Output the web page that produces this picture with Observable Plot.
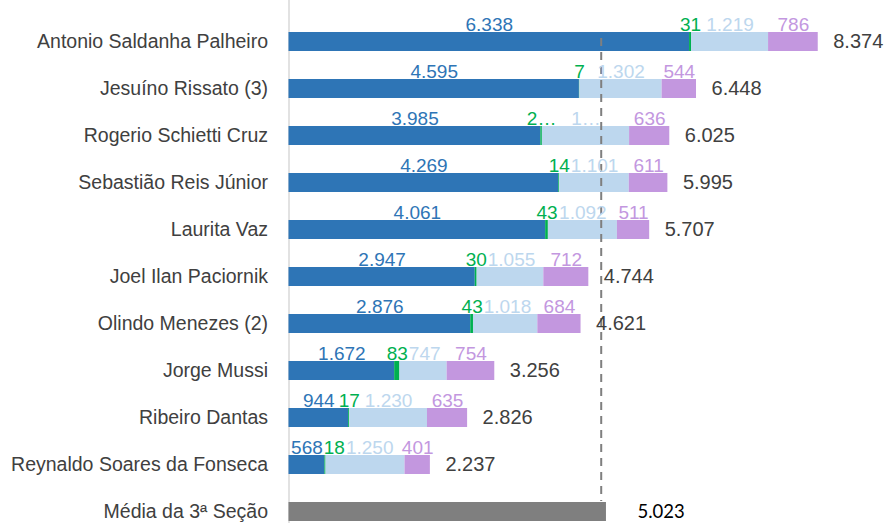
<!DOCTYPE html>
<html>
<head>
<meta charset="utf-8">
<script src="https://cdn.jsdelivr.net/npm/d3@7"></script>
<script src="https://cdn.jsdelivr.net/npm/@observablehq/plot@0.6"></script>
<style>
  html, body { margin: 0; padding: 0; background: #fff; overflow: hidden; }
  #chart svg { display: block; }
</style>
</head>
<body>
<div id="chart"></div>
<script>
// ---- data ----
const nomes = [
  "Antonio Saldanha Palheiro",
  "Jesuíno Rissato (3)",
  "Rogerio Schietti Cruz",
  "Sebastião Reis Júnior",
  "Laurita Vaz",
  "Joel Ilan Paciornik",
  "Olindo Menezes (2)",
  "Jorge Mussi",
  "Ribeiro Dantas",
  "Reynaldo Soares da Fonseca"
];
const azulEscuro = [6338, 4595, 3985, 4269, 4061, 2947, 2876, 1672, 944, 568];
const verde      = [31, 7, 24, 14, 43, 30, 43, 83, 17, 18];
const azulClaro  = [1219, 1302, 1380, 1101, 1092, 1055, 1018, 747, 1230, 1250];
const roxo       = [786, 544, 636, 611, 511, 712, 684, 754, 635, 401];

const mediaNome = "Média da 3ª Seção";
const mediaValor = 5023;
const linhaTracejada = 4940;

const series = ["Azul escuro", "Verde", "Azul claro", "Roxo"];
const cores = ["#2e75b6", "#00b050", "#bdd7ee", "#c397df"];
const rotulosTruncados = [
  ["Rogerio Schietti Cruz", "Verde"],
  ["Rogerio Schietti Cruz", "Azul claro"]
];

// ---- derived tables ----
const valoresPorSerie = [azulEscuro, verde, azulClaro, roxo];
const dados = [];
nomes.forEach((nome, i) => {
  let acumulado = 0;
  series.forEach((s, j) => {
    const valor = valoresPorSerie[j][i];
    dados.push({nome, serie: s, valor, meio: acumulado + valor / 2});
    acumulado += valor;
  });
});
const totais = nomes.map((nome, i) => ({
  nome, total: azulEscuro[i] + verde[i] + azulClaro[i] + roxo[i]
}));
const media = [{nome: mediaNome, valor: mediaValor}];
const dominioY = [...nomes, mediaNome];

const fmt = d3.formatLocale({decimal: ",", thousands: ".", grouping: [3], currency: ["R$", ""]}).format(",d");
const truncado = d => rotulosTruncados.some(([n, s]) => n === d.nome && s === d.serie);
const rotulo = d => truncado(d) ? String(d.valor)[0] + "…" : fmt(d.valor);

const fonte = "'Liberation Sans', Arial, sans-serif";
const tamanhoRotulo = 19;

function desenhar(posicaoRotulo) {
  return Plot.plot({
    width: 884,
    height: 523,
    marginLeft: 288.5,
    marginRight: 26.7,
    marginTop: 0,
    marginBottom: 0,
    style: {fontFamily: fonte, background: "#fff", overflow: "hidden"},
    x: {domain: [0, 9000], axis: null},
    y: {domain: dominioY, range: [8.35, 545.55], paddingInner: 0.597, paddingOuter: 0.5, axis: null},
    color: {domain: series, range: cores},
    marks: [
      Plot.axisY({
        label: null,
        tickSize: 0,
        tickPadding: 21,
        fontSize: 19.5,
        fill: "#404040",
        stroke: null
      }),
      Plot.ruleX([0], {stroke: "#d9d9d9", strokeWidth: 1.5}),
      Plot.barX(dados, Plot.stackX({x: "valor", y: "nome", fill: "serie", order: series})),
      Plot.barX(media, {x: "valor", y: "nome", fill: "#7f7f7f"}),
      Plot.ruleX([linhaTracejada], {
        stroke: "#7f7f7f", strokeWidth: 2, strokeDasharray: "8,6",
        insetTop: 38, insetBottom: 22
      }),
      Plot.text(dados, {
        x: posicaoRotulo, y: "nome",
        text: rotulo, fill: "serie",
        fontSize: tamanhoRotulo, dy: -17.5
      }),
      Plot.text(totais, {
        x: "total", y: "nome", text: d => fmt(d.total),
        textAnchor: "start", dx: 15, fontSize: 20, fill: "#404040"
      }),
      Plot.text(media, {
        x: "valor", y: "nome", text: d => fmt(d.valor),
        textAnchor: "start", dx: 31, fontSize: 18.5, fill: "#000",
        fontFamily: "Lato, 'Open Sans', sans-serif"
      })
    ]
  });
}

// first pass: read the x scale, then nudge overlapping segment labels to the right
const rascunho = desenhar("meio");
const escalaX = rascunho.scale("x");
const pxPorUnidade = (escalaX.range[1] - escalaX.range[0]) / (escalaX.domain[1] - escalaX.domain[0]);
const ctx = document.createElement("canvas").getContext("2d");
ctx.font = `${tamanhoRotulo}px ${fonte}`;
const posicoes = new Map();
nomes.forEach(nome => {
  let direitaAnterior = -Infinity;
  dados.filter(d => d.nome === nome).forEach(d => {
    const largura = ctx.measureText(rotulo(d)).width;
    const centro = escalaX.apply(d.meio);
    const esquerda = Math.max(centro - largura / 2, direitaAnterior + 1);
    direitaAnterior = esquerda + largura;
    posicoes.set(d, d.meio + (esquerda + largura / 2 - centro) / pxPorUnidade);
  });
});

const chart = desenhar(d => posicoes.get(d));
document.getElementById("chart").append(chart);
</script>
</body>
</html>
